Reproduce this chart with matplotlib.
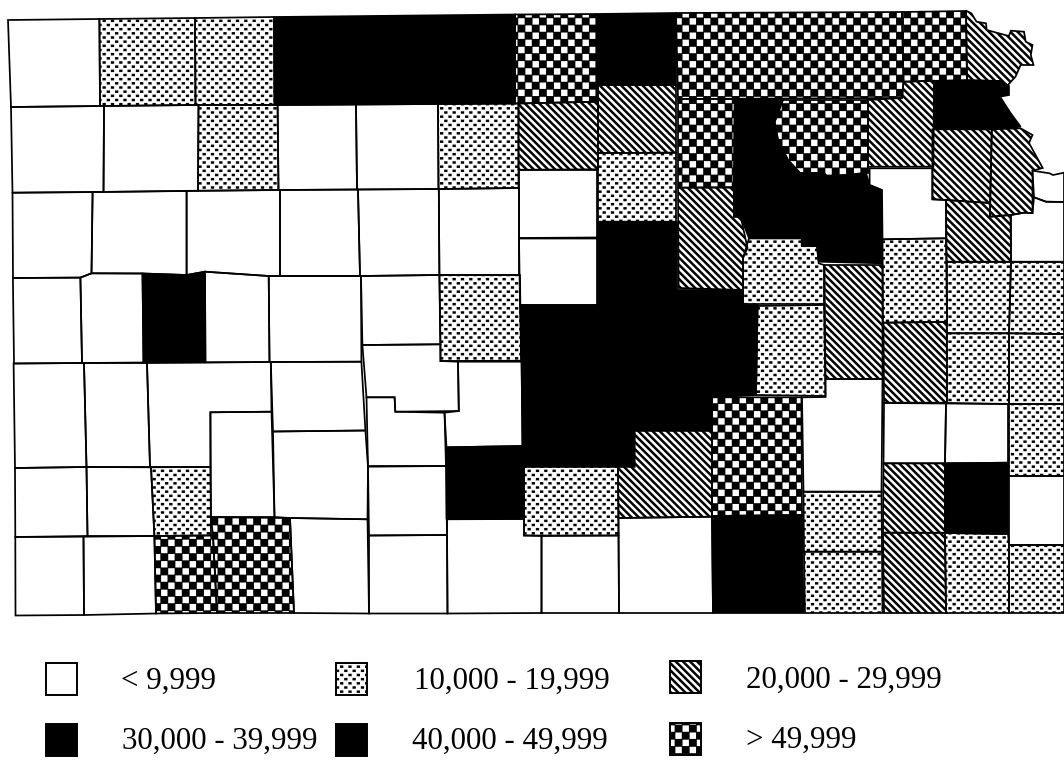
import matplotlib
matplotlib.use("Agg")
import matplotlib.pyplot as plt
import matplotlib.hatch as mhatch
import numpy as np
from matplotlib.path import Path
from matplotlib.patches import Polygon, Rectangle

# ---------- data ----------
legend_labels = ["< 9,999", "10,000 - 19,999", "20,000 - 29,999",
                 "30,000 - 39,999", "40,000 - 49,999", "> 49,999"]
# class index: 0 <9,999 / 1 10-20k / 2 20-30k / 3 30-40k / 4 40-50k / 5 >49,999
county_class = []
county_shape = []
def county(cls, *pts):
    county_class.append(cls); county_shape.append(pts)

# north row
county(0, (8,20),(99.4,19),(100,106),(11,107))
county(1, (99.4,19),(195,18),(195.5,105),(100,106))
county(1, (195,18),(274,17),(274.5,105),(195.5,105))
county(3, (274,17),(515,14.5),(515,103.5),(274.5,105))
county(5, (515,14.5),(596.5,14),(596.5,101.7),(515,103.5))
county(3, (596.5,14),(676,13),(676,85),(598,85),(596.5,101.7))
county(5, (676,13),(902,12),(903.5,81.7),(902,98),(678,99))
county(5, (902,12),(966,11),(967,80),(903.5,81.7))
county(2, (966,10.7),(971.4,13.3),(976.5,21.7),(986,23.3),(986.7,30),(1008.8,36),(1011,30.7),
       (1024,31.7),(1025.7,41.7),(1032.5,45),(1030.8,55),(1033.5,65),(1020.6,65),(1015.5,76.7),
       (1007,86),(1000,81),(967,80))
# row 2
county(0, (11,107),(104,106),(103.5,192),(12.5,192.7))
county(0, (104,106),(198.5,105),(198,190.7),(103.5,192))
county(1, (198.5,105),(277.6,105),(278.5,190),(198,190.7))
county(0, (277.6,105),(356,104.5),(357,189.5),(278.5,190))
county(0, (356,104.5),(438,104),(438.5,189),(357,189.5))
county(1, (438,104),(518.5,103.5),(518.5,188),(438.5,189))
county(2, (518.5,103.5),(596.5,101.7),(598,85),(598,169.3),(518.5,169.8))
county(2, (598,85),(676,85),(676,152.7),(598,153))
county(5, (678,99),(734.6,99),(734,187),(678,187.7))
county(3, (735,99),(783,99),(774.6,122),(778,140),(788,160),(800,173),(824,173),(827,176.7),
       (866,173),(869.6,185),(881.5,190),(882,263.3),(818.7,261.7),(817,246),(801.8,246),
       (801.8,238.3),(749,238.3),(740.7,216.7),(734,216.7),(734,187.7))
county(5, (783,100),(868,100),(868,173),(866,173),(827,176.7),(824,173),(800,173),(788,160),
       (778,140),(774.6,122))
county(2, (868,100),(902,98),(903.5,81.7),(934,80.7),(933.4,166.7),(868,166.7))
county(4, (934,81),(1000,81),(1009,86),(1009,95),(1000,96.7),(1010.5,113),(1020.6,126.7),
       (991.8,129.3),(934,129))
# row 3
county(0, (12.5,192.7),(92.6,192),(91.5,273.3),(80.4,277.6),(13,278))
county(0, (92.6,192),(186.6,191),(186.6,275),(142.5,273.5),(91.5,273.3))
county(0, (186.6,191),(280,190),(280,276),(268.7,276),(205,271.7),(186.6,275))
county(0, (280,190),(358,189.5),(360,276),(280,276))
county(0, (358,189.5),(438.8,189),(439.4,275),(360,276))
county(0, (438.8,189),(519,188),(519,275),(439.4,275))
county(0, (519,170),(597,170),(597,237.5),(519,238))
county(0, (519,238.5),(597,238.5),(597,305),(520,305))
county(1, (598,153),(676,152.7),(676,221.7),(598,221.7))
county(2, (678,187.7),(734,187.7),(734,216.7),(740.7,216.7),(747.5,248),(743,258),(743,290),(678.6,288))
county(2, (932.4,129.3),(991.8,129.3),(990,203),(946,200),(932.4,199.3))
county(2, (991.8,129.3),(1020.6,128.3),(1032.5,135),(1029,143),(1042.7,168),(1032.5,170.7),
       (1032.5,213),(1024,212.7),(1010.5,215),(990,216.7))
county(0, (869.6,168.3),(932.4,168.3),(932.4,199.3),(946,200),(946,238.3),(882.5,239.3),(882,190),(869.6,185))
county(0, (1032.5,170.7),(1049.5,173.3),(1053,175),(1064,172.7),(1064,202),(1046,201.7),(1034,197.3))
county(0, (1034,197.3),(1046,201.7),(1064,202),(1064,261.7),(1011,261.7),(1011,215),(1024,212.7),(1032.5,213))
county(2, (946,200),(990,203),(990,216.7),(1010.5,215),(1011,261.7),(946.7,261.7))
county(1, (743,304),(743,258),(749,238.3),(801.8,238.3),(801.8,246),(817,246),(818.7,263.3),(824,265),(824,304))
# row 4
county(0, (12.9,278),(80.4,277.6),(82,363),(14,363.5))
county(0, (80.4,277.6),(91.5,273.3),(142.5,273.5),(143.5,362.5),(82,363))
county(3, (142.5,273.5),(186.6,275),(205,271.7),(205.4,362.3),(143.5,362.5))
county(0, (205,271.7),(268.7,276),(269.5,362),(205.4,362.3))
county(0, (268.7,276),(361,276),(361.4,361.7),(269.5,362))
county(0, (361,276),(439.4,275),(440.5,344.3),(362.4,345))
county(1, (439.4,275),(520,275),(521,360.7),(440.5,361))
county(3, (520,305),(598,305),(598,222),(677,222),(677,290),(743,290),(743,305),(757.6,305),
       (756,395),(712,397.3),(712,430.7),(634.5,430.7),(634.5,466.7),(524,466.7),(522.5,446),(521.6,361.7))
county(1, (757.6,306),(824,305),(825.5,396),(756,395))
county(2, (824.5,265),(882.5,265),(882.5,379),(825.5,379))
county(1, (882.5,239.3),(946,238.3),(947,321.7),(883,322.7))
county(1, (947,262),(1011,262),(1009,333.3),(947,333.3))
county(1, (1011,262),(1064,262),(1064,334),(1009,333.3))
# row 5
county(0, (13.6,363.5),(84,363),(86.5,467),(15,468))
county(0, (84,363),(147,363),(150,467.3),(86.5,467))
county(0, (147,363),(270.8,362),(271.5,411.7),(210.4,412.3),(210.4,467),(150,467.3))
county(0, (210.4,412.3),(271.5,411.7),(274.5,517),(211,517))
county(0, (270.8,362),(361.4,361.7),(365.4,430.5),(273,431.5))
county(0, (273,431.5),(365.4,430.5),(368,466.7),(367.5,519.3),(290,518),(274.5,517))
county(0, (362.4,345),(440.5,344.3),(440.5,361),(458,361.7),(458.8,411),(395.3,411.7),(394.6,397.3),(366.5,397.3))
county(0, (366.5,397.3),(394.6,397.3),(395.3,411.7),(444.5,412.7),(446,466),(368,466.7))
county(0, (458,361.7),(521.6,361.7),(522.5,446),(446.5,447.3),(444.5,412.7),(458.8,411))
county(3, (446.5,447.3),(522.5,446),(524,466.7),(524,519),(446.5,518.5))
county(2, (883.5,322.7),(946.7,322),(947,402.7),(884,402.7))
county(1, (947,333.3),(1009,333.3),(1009,404),(947,403))
county(1, (1009,333.3),(1064,334),(1064,404),(1009,404))
# row 6
county(0, (15,468),(86.5,467),(87.5,536),(15.3,537))
county(0, (86.5,467),(151,467),(154.4,536),(87.5,536))
county(1, (151,467),(210.4,467),(211,535.3),(154.4,536))
county(0, (368,466),(446,466),(447,535),(369,535.5))
county(1, (524,466.7),(618,466.7),(618.5,535.5),(524,535.5))
county(2, (634.5,430.7),(712,430.7),(712,516.7),(618.5,518),(618,466.7),(634.5,466.7))
county(5, (712,397.3),(801.4,397.3),(802,515),(712,516))
county(0, (802,397.3),(825.5,397),(825.5,379),(882.5,379),(881.5,491.7),(803.5,491.7))
county(0, (884,403),(946,403.5),(945,463.3),(883.5,463.3))
county(0, (946,403.5),(1008,404),(1008,462.7),(945,463.3))
county(1, (1009,404),(1064,404),(1064,476),(1009,476))
county(2, (883.5,463.3),(945,463.3),(945,532.7),(883,532.7))
county(4, (945,463.3),(1008,462.7),(1008,534),(945,533))
county(0, (1009,476),(1064,476),(1064,545),(1009,545))
# south row
county(0, (15.3,537),(83.5,536.7),(84,615),(15.5,615.5))
county(0, (83.5,536.7),(154.4,536),(156,613.5),(84,615))
county(5, (154.4,536),(213,535.5),(217,613),(156,613.5))
county(5, (211,517),(290,518),(294,613),(217,613),(213,535.5))
county(0, (290,518),(367.5,519.3),(369,613.5),(294,613))
county(0, (369,535.5),(447,535),(447.5,613.5),(369,613.5))
county(0, (447,519.3),(524,519),(524,535.5),(541.5,536),(541.5,613),(447.5,613.5))
county(0, (541.5,536),(618.5,535.5),(619,613),(541.5,613))
county(0, (618.5,518),(712,516.7),(713,613),(619,613))
county(3, (712,516),(802,515),(803.5,613),(713,613))
county(1, (803.5,491.7),(881.5,491.7),(882,551.7),(804,551.7))
county(1, (804,551.7),(882,551.7),(882.5,613),(805,613))
county(2, (883,532.7),(945,533),(946,613),(884,613))
county(1, (945,533),(1008,534),(1009,545),(1009,613),(946,613))
county(1, (1009,545),(1064,545),(1064,613),(1009,613))

# ---------- custom hatch lattices ----------
SQUARE = Path([(-1,-1),(1,-1),(1,1),(-1,1),(-1,-1)],
              [Path.MOVETO, Path.LINETO, Path.LINETO, Path.LINETO, Path.CLOSEPOLY])
TICK = Path([(-1,0),(1,0)], [Path.MOVETO, Path.LINETO])

class Lattice(mhatch.HatchPatternBase):
    char = ''; nx = 1; nrows = 2; radius = 0.01; shape = SQUARE
    def __init__(self, hatch, density):
        self.on = hatch.count(self.char) > 0
        pts = []
        for r in range(self.nrows + 1):
            y = r / self.nrows
            if r % 2 == 0:
                pts += [(i / self.nx, y) for i in range(self.nx + 1)]
            else:
                pts += [((i + .5) / self.nx, y) for i in range(self.nx)]
        self.pts = pts
        self.num_vertices = len(pts) * len(self.shape.vertices) if self.on else 0
    def set_vertices_and_codes(self, vertices, codes):
        n = len(self.shape.vertices)
        for k, p in enumerate(self.pts):
            vertices[k*n:(k+1)*n] = self.shape.vertices * self.radius + p
            codes[k*n:(k+1)*n] = self.shape.codes

class Dots(Lattice):
    char = '.'; nx = 12; nrows = 24; radius = 0.004; shape = TICK
class Checks(Lattice):
    char = '*'; nx = 7; nrows = 14; radius = 0.0195

class Stripes(mhatch.SouthEastHatch):
    def __init__(self, hatch, density):
        super().__init__(hatch, density)
        if self.num_lines:
            self.num_lines = 28
            self.num_vertices = (self.num_lines + 1) * 2

mhatch._hatch_types[:] = [Stripes, Dots, Checks]
plt.rcParams['hatch.linewidth'] = 1.8

plt.rcParams['font.family'] = ['Liberation Serif', 'DejaVu Serif']

def style(cls):
    if cls == 0:
        return dict(facecolor='white', edgecolor='white')
    if cls == 1:
        return dict(facecolor='white', edgecolor='black', hatch='.')
    if cls == 2:
        return dict(facecolor='white', edgecolor='black', hatch='\\')
    if cls in (3, 4):
        return dict(facecolor='black', edgecolor='black')
    return dict(facecolor='black', edgecolor='white', hatch='*')

fig = plt.figure(figsize=(10.64, 7.6), dpi=100, facecolor='white')
ax = fig.add_axes([0, 0, 1, 1])
ax.set_xlim(0, 1064); ax.set_ylim(760, 0); ax.axis('off')

for cls, pts in zip(county_class, county_shape):
    ax.add_patch(Polygon(pts, closed=True, lw=0, zorder=1, **style(cls)))
for cls, pts in zip(county_class, county_shape):
    ax.add_patch(Polygon(pts, closed=True, fill=False, edgecolor='black', lw=1.25, zorder=2, joinstyle='miter'))

# legend
swatch_x = [46, 336, 670, 46, 336, 670]
swatch_y = [663, 663, 661, 724, 724, 723]
text_x = [121, 414, 746, 122, 412, 746]
text_y = [681, 681, 680, 741, 741, 740]
for i, lab in enumerate(legend_labels):
    ax.add_patch(Rectangle((swatch_x[i], swatch_y[i]), 31, 32, lw=0, zorder=1, **style(i)))
    ax.add_patch(Rectangle((swatch_x[i], swatch_y[i]), 31, 32, fill=False, edgecolor='black', lw=1.4, zorder=2))
    ax.text(text_x[i], text_y[i], lab, fontsize=22.3, ha='left', va='center', color='black')

fig.savefig('out.png', dpi=100, facecolor='white')
